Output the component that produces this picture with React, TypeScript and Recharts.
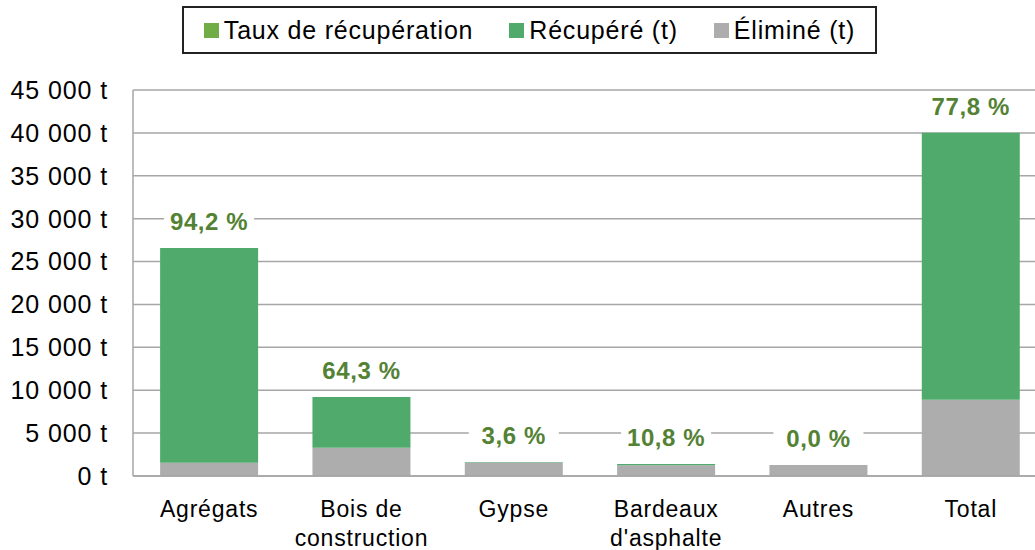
import React from 'react';
import { BarChart, Bar, XAxis, YAxis, CartesianGrid, LabelList } from 'recharts';

const categories = ['Agrégats', 'Bois de\nconstruction', 'Gypse', "Bardeaux\nd'asphalte", 'Autres', 'Total'];
const elimine = [1540, 3290, 1570, 1250, 1280, 8880];
const recupere = [25040, 5920, 60, 150, 0, 31140];
const taux = [94.2, 64.3, 3.6, 10.8, 0.0, 77.8];
const yTicks = [0, 5000, 10000, 15000, 20000, 25000, 30000, 35000, 40000, 45000];

const GREEN = '#50AA6C';
const GRAY = '#ADADAD';
const RATE_GREEN = '#70AD47';
const LABEL_COLOR = '#548235';
const FONT = '"Liberation Sans", Arial, sans-serif';

const data = categories.map((name, i) => ({
  name,
  elimine: elimine[i],
  recupere: recupere[i],
  taux: taux[i],
}));

const fmtTonnes = (v: number) =>
  String(v).replace(/\B(?=(\d{3})+(?!\d))/g, ' ') + ' t';

const CategoryTick = (props: any) => {
  const { x, y, payload } = props;
  const lines = String(payload.value).split('\n');
  return (
    <text x={x} y={y} textAnchor="middle" fontFamily={FONT} fontSize={23} letterSpacing={0.8} fill="#000">
      {lines.map((l, i) => (
        <tspan key={i} x={x} dy={i === 0 ? 33 : 29}>{l}</tspan>
      ))}
    </text>
  );
};

// attached to the bottom (Éliminé) segment: the top of the stack is found
// from the same pixel-per-tonne ratio the library used for this segment
const RateLabel = (props: any) => {
  const { x, y, width, height, index } = props;
  const pxPerT = height / elimine[index];
  const top = y - recupere[index] * pxPerT;
  const cx = x + width / 2;
  const cy = top - 26;
  const txt = taux[index].toFixed(1).replace('.', ',') + ' %';
  return (
    <g>
      <rect x={cx - 45} y={cy - 15} width={90} height={30} fill="#fff" />
      <text x={cx} y={cy + 8} textAnchor="middle" fontFamily={FONT} fontSize={24}
        fontWeight="bold" letterSpacing={0.6} fill={LABEL_COLOR}>{txt}</text>
    </g>
  );
};

const legendItems = [
  { label: 'Taux de récupération', color: RATE_GREEN },
  { label: 'Récupéré (t)', color: GREEN },
  { label: 'Éliminé (t)', color: GRAY },
];

export default function App() {
  return (
    <div style={{ position: 'absolute', left: 0, top: 0, width: 1035, height: 550, overflow: 'hidden', background: '#fff' }}>
      <BarChart
        width={1047}
        height={550}
        data={data}
        margin={{ top: 90, right: 0, bottom: 0, left: 0 }}
        barCategoryGap="17.8%"
      >
        <CartesianGrid vertical={false} stroke="#A6A6A6" strokeWidth={1.5} />
        <XAxis
          dataKey="name"
          height={74}
          tick={<CategoryTick />}
          tickLine={false}
          axisLine={{ stroke: '#A6A6A6', strokeWidth: 1.5 }}
          interval={0}
        />
        <YAxis
          width={133}
          domain={[0, 45000]}
          ticks={yTicks}
          tickFormatter={fmtTonnes}
          tick={{ fontFamily: FONT, fontSize: 25, fill: '#000', letterSpacing: 0.9 }}
          tickLine={false}
          tickSize={0}
          tickMargin={25}
          axisLine={{ stroke: '#A6A6A6', strokeWidth: 1.5 }}
          interval={0}
        />
        <Bar dataKey="elimine" stackId="a" fill={GRAY} isAnimationActive={false}>
          <LabelList dataKey="taux" content={<RateLabel />} />
        </Bar>
        <Bar dataKey="recupere" stackId="a" fill={GREEN} isAnimationActive={false} />
      </BarChart>
      <div
        style={{
          position: 'absolute', left: 182, top: 6, width: 691, height: 44,
          border: '2px solid #222', display: 'flex', alignItems: 'center',
          justifyContent: 'center', gap: 36, fontFamily: FONT, fontSize: 25,
          letterSpacing: 0.8, color: '#000',
        }}
      >
        {legendItems.map((it) => (
          <div key={it.label} style={{ display: 'flex', alignItems: 'center', gap: 5 }}>
            <span style={{ width: 15, height: 15, background: it.color, display: 'inline-block' }} />
            <span>{it.label}</span>
          </div>
        ))}
      </div>
    </div>
  );
}
